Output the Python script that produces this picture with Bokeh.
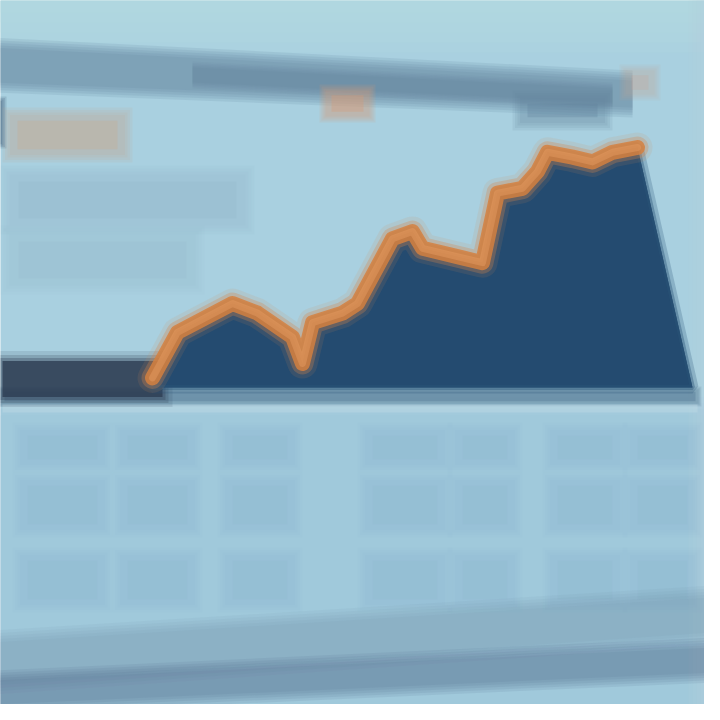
from bokeh.plotting import figure
from bokeh.models import Range1d, BoxAnnotation, PolyAnnotation
from bokeh.embed import file_html
from bokeh.resources import INLINE

# ---- chart data ----
period = [0, 5, 16, 21, 28, 30, 32, 38, 41, 48, 52, 54, 62, 66, 69, 74, 77, 79, 84, 88, 92, 97]
value = [4, 23, 35, 31, 21, 10, 27, 31, 35, 62, 65, 58, 54, 52, 81, 83, 90, 98, 96, 94, 98, 100]
period_end = 108
baseline = 0

W = H = 704
p = figure(width=W, height=H, output_backend="svg", toolbar_location=None,
           x_range=Range1d(-30.4, 110.4), y_range=Range1d(-132.1, 161.25),
           min_border=0, outline_line_color=None)
p.axis.visible = False
p.grid.visible = False
p.background_fill_color = "#a9d0e0"
p.border_fill_color = "#a9d0e0"

def box(l, t, r, b, color, alpha):
    p.add_layout(BoxAnnotation(left=l - 8, right=r - 8, top=H - (t - 8), bottom=H - (b - 8),
                               left_units="screen", right_units="screen",
                               top_units="screen", bottom_units="screen",
                               fill_color=color, fill_alpha=alpha, line_color=None,
                               level="underlay"))

def soft_box(l, t, r, b, color, alpha, spread=6, n=4):
    for i in range(n, 0, -1):
        s = spread * i / n
        box(l - s, t - s, r + s, b + s, color, alpha / (n + 1))
    box(l + spread / 2, t + spread / 3, r - spread / 2, b - spread / 3, color, alpha * 0.5)

def poly(xs, ys, color, alpha):
    p.add_layout(PolyAnnotation(xs=[x - 8 for x in xs], ys=[H - (y - 8) for y in ys],
                                xs_units="screen", ys_units="screen",
                                fill_color=color, fill_alpha=alpha, line_color=None,
                                level="underlay"))

def soft_band(x0, x1, yl_top, yl_bot, yr_top, yr_bot, color, alpha, spread=8, n=4):
    for i in range(n, -1, -1):
        s = spread * i / n
        poly([x0, x1, x1, x0], [yl_top - s, yr_top - s, yr_bot + s, yl_bot + s], color, alpha / (n + 1))

# top lighter sky
for i in range(5):
    box(0, 0, 720, 20 + i * 10, "#b8dce5", 0.18)
# slanted top band
soft_band(0, 640, 55, 90, 88, 115, "#5f8199", 0.75, 10)
soft_band(200, 620, 75, 90, 96, 110, "#56778f", 0.35, 6)
# lower panel tint
for i in range(4):
    box(0, 405 + i * 6, 720, 720, "#9cc3d6", 0.15)
# left edge dark blob
soft_box(0, 110, 8, 150, "#3d5a72", 0.9, 6)
# title-like blocks (left)
soft_box(20, 125, 130, 160, "#c8a88c", 0.6, 10)
soft_box(20, 185, 250, 230, "#8fb3c6", 0.45, 12)
soft_box(20, 245, 200, 290, "#93b7c9", 0.35, 12)
# small blobs at top
soft_box(335, 100, 375, 122, "#d49a78", 0.7, 8)
soft_box(530, 108, 610, 128, "#5f819b", 0.6, 10)
soft_box(635, 80, 660, 100, "#c7a596", 0.5, 8)
# right light strip
for i in range(4):
    box(696 + i * 4, 0, 720, 720, "#b2d3df", 0.15)

# table-like faint blocks in lower panel
rows = [(440, 470), (490, 535), (565, 610)]
cols = [(30, 110), (130, 200), (235, 300), (375, 450), (465, 520), (560, 625), (640, 700)]
for (t, b) in rows:
    for (l, r) in cols:
        soft_box(l, t, r, b, "#7b9fb8", 0.13, 10)

# bottom slanted dark bands
soft_band(0, 720, 650, 690, 605, 640, "#6f92aa", 0.45, 12)
soft_band(0, 720, 688, 712, 655, 680, "#4f6e88", 0.6, 10)

# baseline line
soft_box(10, 398, 705, 410, "#3f6383", 0.55, 4)
box(10, 412, 705, 420, "#c3dde6", 0.4)

# left dark baseline block
for i, a in [(10, 0.12), (6, 0.2), (3, 0.3), (0, 0.8)]:
    p.quad(left=-30 - i / 5, right=2 + i / 5, bottom=-4 - i / 2.4, top=11 + i / 2.4,
           fill_color="#2d3d52", fill_alpha=a, line_color=None)

# area
area_x = period + [period_end, period[0]]
area_y = value + [baseline, baseline]
p.patch(area_x, area_y, fill_color="#244b70", line_color="#2b5577", line_width=12, line_alpha=0.25)
p.patch(area_x, area_y, fill_color="#244b70", line_color="#2b5577", line_width=5, line_alpha=0.4)

# orange line, layered to look soft
p.line(period, value, line_color="#d88a52", line_width=30, line_alpha=0.12, line_join="round", line_cap="round")
p.line(period, value, line_color="#d8864a", line_width=22, line_alpha=0.3, line_join="round", line_cap="round")
p.line(period, value, line_color="#d3803f", line_width=15, line_alpha=0.85, line_join="round", line_cap="round")
p.line(period, value, line_color="#e3995f", line_width=7, line_alpha=0.5, line_join="round", line_cap="round")

open("out.html", "w").write(file_html(p, INLINE))
